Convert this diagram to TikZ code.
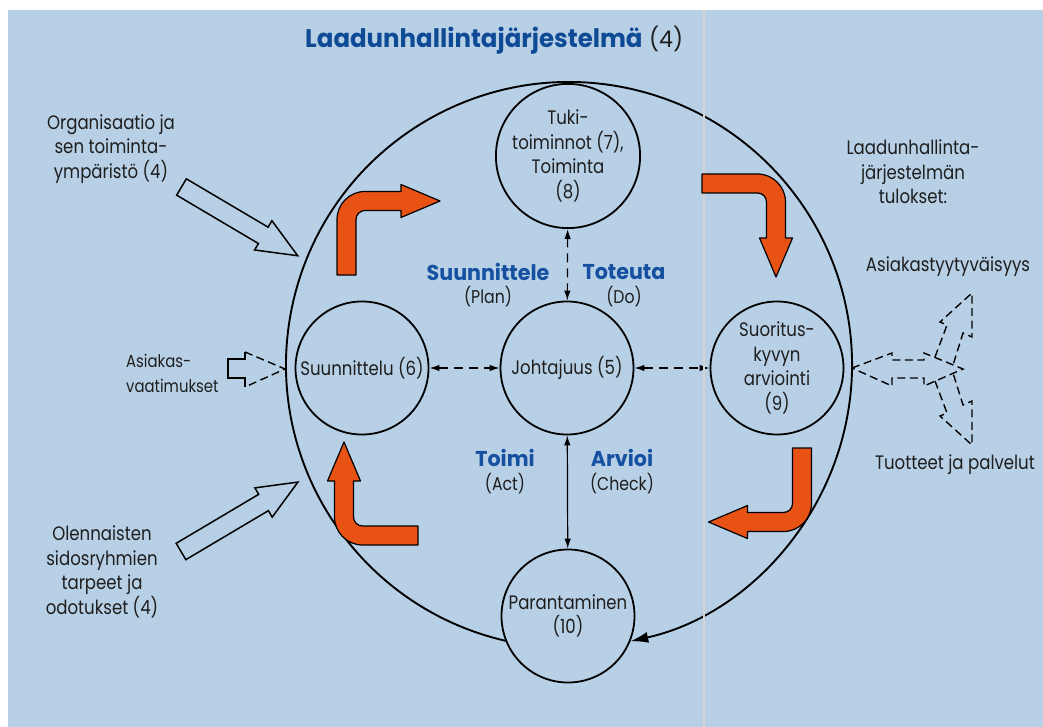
\documentclass[tikz,border=0pt]{standalone}
\usepackage{fontspec}
\setmainfont{Poppins}[FakeStretch=0.85]
\newfontfamily\headfont{Poppins}[FakeStretch=0.96]
\usetikzlibrary{arrows.meta}
\definecolor{bgblue}{RGB}{184,208,230}
\definecolor{labelblue}{RGB}{22,80,160}
\definecolor{titleblue}{RGB}{14,74,150}
\definecolor{flow}{RGB}{232,82,20}
\definecolor{ink}{RGB}{30,30,30}
\definecolor{divider}{RGB}{212,212,212}
\begin{document}
\begin{tikzpicture}[x=1pt,y=-1pt,
  txt/.style={font=\fontsize{19.5}{24.5}\selectfont, text=ink, align=center, inner sep=0pt},
  proc/.style={circle, draw=black, line width=1.8pt, fill=bgblue, minimum size=133pt,
    inner sep=0pt, font=\fontsize{19.5}{24.5}\selectfont, text=ink, align=center},
  phase/.style={font=\headfont\bfseries\fontsize{21.5}{22}\selectfont, text=labelblue, inner sep=0pt},
  phasesub/.style={font=\fontsize{18.5}{20}\selectfont, text=ink, inner sep=0pt},
  link/.style={line width=1.2pt, dash pattern=on 9pt off 6pt, {Latex[length=10pt,width=6.5pt]}-{Latex[length=10pt,width=6.5pt]}},
  solidlink/.style={line width=1.2pt, {Latex[length=10pt,width=6.5pt]}-{Latex[length=10pt,width=6.5pt]}},
  flowarrow/.style={fill=flow, draw=black, line width=1.2pt, line join=round},
  blockarrow/.style={draw=black, line width=1.5pt, line join=miter},
  dashedblock/.style={draw=black, line width=1.4pt, dash pattern=on 8pt off 4.5pt},
  bentarrow/.pic={
    \draw[flowarrow] (-9.5,0) -- (-9.5,-55.5) arc[start angle=180, end angle=270, radius=28]
      -- (54.5,-83.5) -- (54.5,-90.5) -- (93.5,-74) -- (54.5,-57.5) -- (54.5,-64.5)
      -- (18.5,-64.5) arc[start angle=270, end angle=180, radius=9] -- (9.5,0) -- cycle;
  },
]
\useasboundingbox (0,0) rectangle (1043,727);
\fill[white] (0,0) rectangle (1043,727);
\fill[bgblue] (8,10) rectangle (1043,727);

% title
\node[anchor=west, inner sep=0pt, font=\headfont\fontsize{25.5}{28}\selectfont] (title) at (305,40)
  {\textcolor{titleblue}{\bfseries Laadunhallintajärjestelmä} \textcolor{ink}{\fontsize{23}{28}\selectfont(4)}};

% outer ring of the process
\coordinate (ringc) at (569,365);
\draw[line width=1.9pt, -{Latex[length=18pt,width=11pt]}]
  ([shift={(102.5:283)}]ringc) arc[start angle=102.5, end angle=437.5, radius=283];

% process circles
\node[proc] (tuki) at (568,156) {Tuki-\\toiminnot (7),\\Toiminta\\(8)};
\node[proc] (suun) at (362,368) {Suunnittelu (6)};
\node[proc] (joht) at (567,368) {Johtajuus (5)};
\node[proc] (suor) at (777,368) {Suoritus-\\kyvyn\\arviointi\\(9)};
\node[proc] (paran) at (568,616) {Parantaminen\\(10)};

% links to the leadership circle
\draw[link] (suun) -- (joht);
\draw[link] (joht) -- (suor);
\draw[link] (tuki) -- (joht);
\draw[solidlink] (joht) -- (paran);

% PDCA labels
\node[phase] (plan) at (488,272) {Suunnittele};
\node[phasesub] (plansub) at (488,297) {(Plan)};
\node[phase] (do) at (624,272) {Toteuta};
\node[phasesub] (dosub) at (624,297) {(Do)};
\node[phase] (act) at (505,458) {Toimi};
\node[phasesub] (actsub) at (505,484) {(Act)};
\node[phase] (check) at (622,458) {Arvioi};
\node[phasesub] (checksub) at (622,484) {(Check)};

% divider
\draw[divider, line width=1.6pt] (704,10) -- (704,727);

% cycle arrows
\pic at (346.5,275) {bentarrow};
\pic[rotate=-90] at (702,183.5) {bentarrow};
\pic[rotate=180] at (802,448) {bentarrow};
\pic[rotate=90] at (418,535.5) {bentarrow};

% inputs
\node[txt] (org) at (111,149) {Organisaatio ja\\sen toiminta-\\ympäristö (4)};
\begin{scope}[shift={(181.5,187)}, rotate=-30.6]
  \draw[blockarrow] (0,-9.5) -- (95,-9.5) -- (95,-17) -- (135,0) -- (95,17) -- (95,9.5) -- (0,9.5) -- cycle;
\end{scope}
\node[txt] (sidos) at (102,572) {Olennaisten\\sidosryhmien\\tarpeet ja\\odotukset (4)};
\begin{scope}[shift={(181,551.5)}, rotate=30.7]
  \draw[blockarrow] (0,-9.5) -- (96,-9.5) -- (96,-17) -- (136,0) -- (96,17) -- (96,9.5) -- (0,9.5) -- cycle;
\end{scope}
\node[txt, align=left, anchor=west, font=\fontsize{17.5}{25}\selectfont] (req) at (126,373) {Asiakas-\\vaatimukset};
\draw[blockarrow] (245,352) -- (245,359) -- (228,359) -- (228,378) -- (245,378) -- (245,387);
\draw[dashedblock] (245,352) -- (285,369) -- (245,387);

% outputs
\node[txt] (res) at (913,172) {Laadunhallinta-\\järjestelmän\\tulokset:};
\node[txt] (sat) at (948,267) {Asiakastyytyväisyys};
\node[txt] (prod) at (955,465) {Tuotteet ja palvelut};
\draw[dashedblock] (852,368) -- (892,353) -- (892,360) -- (924,360) -- (924,353) -- (963,369)
  -- (924,386) -- (924,378) -- (892,378) -- (892,386) -- cycle;
\draw[dashedblock] (935,357) -- (947,325) -- (940,322) -- (972,293) -- (972,337) -- (963,333) -- (953,365);
\draw[dashedblock] (935,381) -- (947,413) -- (940,416) -- (972,445) -- (972,401) -- (963,405) -- (953,373);
\end{tikzpicture}
\end{document}
